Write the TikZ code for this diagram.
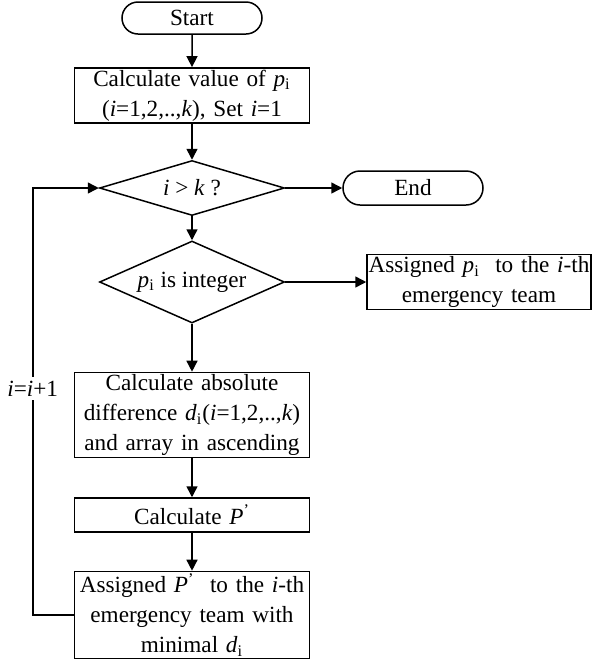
\documentclass[tikz,border=0pt]{standalone}
\usepackage{fontspec}
\setmainfont{Liberation Serif}
\usetikzlibrary{shapes.geometric,shapes.misc,arrows.meta}
\newcommand{\pin}{\textit{p}\textsubscript{i}}
\newcommand{\din}{\textit{d}\textsubscript{i}}
\newcommand{\Pp}{\textit{P}\textsuperscript{'}}
\begin{document}
\begin{tikzpicture}[font=\fontsize{11.6}{15}\selectfont,line width=0.75pt,
    >={Triangle[length=5.5pt,width=5.5pt]},
    terminal/.style={draw,rounded rectangle,minimum width=70pt,minimum height=16pt,inner sep=0pt},
    process/.style={draw,rectangle,align=center,text width=114pt,minimum width=117.5pt,inner sep=1pt},
    decision/.style={draw,diamond,minimum width=92.5pt,inner sep=0pt},
    node distance=50pt]
  \useasboundingbox (0,0) rectangle (299.5pt,-332.5pt);

  \node [terminal] (start) at (96pt,-9pt) {Start};
  \node [process,below of=start,yshift=11.25pt,minimum height=27.5pt] (calc) {Calculate value of \pin\\(\textit{i}=1,2,..,\textit{k}), Set \textit{i}=1};
  \node [decision,below of=calc,yshift=3.75pt,minimum height=27.5pt,aspect=3.36] (check) {\textit{i} > \textit{k} ?};
  \node [terminal,right of=check,xshift=60.5pt,minimum height=17pt] (end) {End};
  \node [decision,below of=check,yshift=3pt,minimum height=41pt,aspect=2.26] (integer) {\pin{} is integer};
  \node [process,right of=integer,xshift=93.5pt,text width=112pt,inner xsep=0pt,minimum width=112pt,minimum height=27pt] (assign) {Assigned \pin{}~ to the \textit{i}-th\\emergency team};
  \node [process,below of=integer,yshift=-16.5pt,minimum height=42pt] (diff) {Calculate absolute\\difference \din{}(\textit{i}=1,2,..,\textit{k})\\and array in ascending};
  \node [process,below of=diff,minimum height=17pt] (calcp) {Calculate \Pp};
  \node [process,below of=calcp,minimum height=42pt] (minimal) {Assigned \Pp{}~ to the \textit{i}-th\\emergency team with\\minimal \din};

  \draw[->] (start) -- (calc);
  \draw[->] (calc) -- (check);
  \draw[->] (check) -- (end);
  \draw[->] (check) -- (integer);
  \draw[->] (integer) -- (assign);
  \draw[->] (integer) -- (diff);
  \draw[->] (diff) -- (calcp);
  \draw[->] (calcp) -- (minimal);
  \draw[->] (minimal.west) -- ++(-20.5pt,0) |- node[pos=0.265,fill=white,inner sep=2pt] {\textit{i}=\textit{i}+1} (check.west);
\end{tikzpicture}
\end{document}
